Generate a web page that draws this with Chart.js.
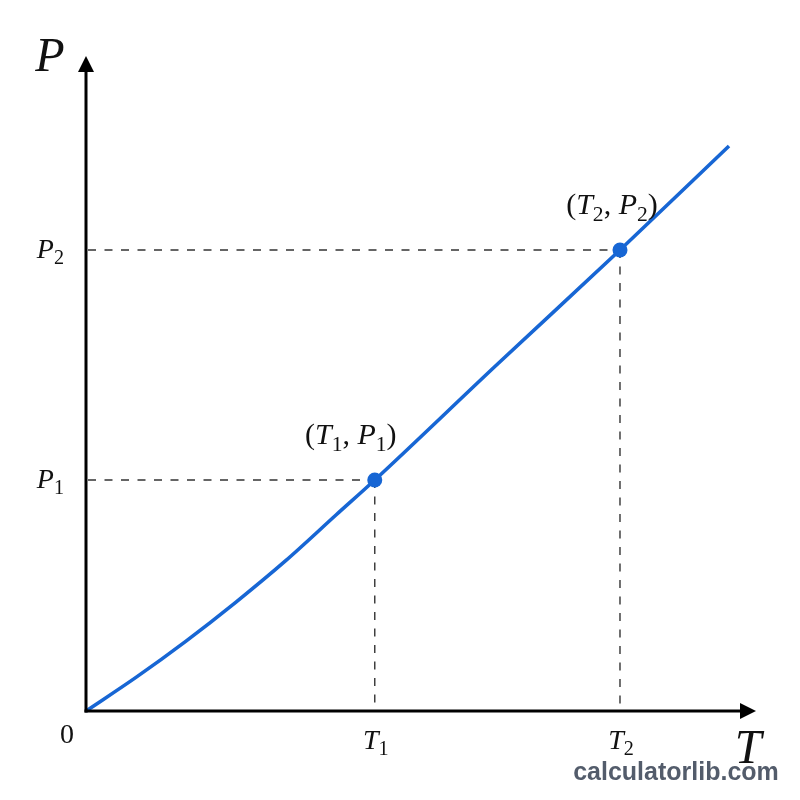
<!DOCTYPE html>
<html><head><meta charset="utf-8">
<script src="https://cdn.jsdelivr.net/npm/chart.js@4/dist/chart.umd.min.js"></script>
<style>html,body{margin:0;padding:0;background:#fff;}canvas{display:block;}</style>
</head><body>
<canvas id="c" width="800" height="800"></canvas>
<script>
// ---- data ----
const curveT = [0, 0.746, 1.493, 2.239, 2.985, 3.731, 4.310, 6.119, 7.970, 9.597];
const curveP = [0, 0.513, 1.067, 1.663, 2.299, 2.992, 3.527, 5.275, 7.038, 8.626];
const markT = [4.310, 7.970];
const markP = [3.527, 7.038];
const markSub = ['1', '2'];
const xAxisName = 'T';
const yAxisName = 'P';
const originLabel = '0';
const watermark = 'calculatorlib.com';
const axisMax = 10;

// ---- styles ----
const BLUE = '#1766d4';
const SERIF = '"Liberation Serif","DejaVu Serif",serif';
const labelDx = [-24, -8];

function rich(ctx, parts, x, y, align, size) {
  const sub = size * 0.72;
  const fontOf = k => k === 'i' ? `italic ${size}px ${SERIF}` : k === 's' ? `${sub}px ${SERIF}` : `${size}px ${SERIF}`;
  let w = 0;
  for (const [t, k] of parts) { ctx.font = fontOf(k); w += ctx.measureText(t).width; }
  let cx = align === 'center' ? x - w / 2 : align === 'right' ? x - w : x;
  ctx.textAlign = 'left'; ctx.textBaseline = 'alphabetic';
  for (const [t, k] of parts) {
    ctx.font = fontOf(k);
    ctx.fillText(t, cx, k === 's' ? y + size * 0.22 : y);
    cx += ctx.measureText(t).width;
  }
}

const decor = {
  id: 'decor',
  beforeDatasetsDraw(chart) {
    const ctx = chart.ctx, xs = chart.scales.x, ys = chart.scales.y;
    const x0 = xs.getPixelForValue(0), y0 = ys.getPixelForValue(0);
    ctx.save();
    ctx.strokeStyle = '#333'; ctx.lineWidth = 1.4; ctx.setLineDash([8, 8.5]);
    markT.forEach((t, i) => {
      const px = xs.getPixelForValue(t), py = ys.getPixelForValue(markP[i]);
      ctx.beginPath(); ctx.moveTo(x0 + 2, py); ctx.lineTo(px, py); ctx.stroke();
      ctx.beginPath(); ctx.moveTo(px, py); ctx.lineTo(px, y0 - 1); ctx.stroke();
    });
    ctx.restore();
  },
  afterDatasetsDraw(chart) {
    const ctx = chart.ctx, xs = chart.scales.x, ys = chart.scales.y;
    const x0 = xs.getPixelForValue(0), y0 = ys.getPixelForValue(0);
    const xEnd = xs.getPixelForValue(axisMax), yEnd = ys.getPixelForValue(axisMax);
    ctx.save();
    // axes
    ctx.strokeStyle = '#000'; ctx.fillStyle = '#000'; ctx.lineWidth = 3;
    ctx.beginPath(); ctx.moveTo(x0, y0 + 1.5); ctx.lineTo(x0, yEnd + 12); ctx.stroke();
    ctx.beginPath(); ctx.moveTo(x0 - 1.5, y0); ctx.lineTo(xEnd - 12, y0); ctx.stroke();
    ctx.beginPath(); ctx.moveTo(x0, yEnd); ctx.lineTo(x0 - 8, yEnd + 16); ctx.lineTo(x0 + 8, yEnd + 16); ctx.closePath(); ctx.fill();
    ctx.beginPath(); ctx.moveTo(xEnd, y0); ctx.lineTo(xEnd - 16, y0 - 8); ctx.lineTo(xEnd - 16, y0 + 8); ctx.closePath(); ctx.fill();

    // labels
    ctx.fillStyle = '#111';
    rich(ctx, [[yAxisName, 'i']], x0 - 36, yEnd + 15, 'center', 48);
    rich(ctx, [[xAxisName, 'i']], xEnd - 8, y0 + 52, 'center', 48);
    rich(ctx, [[originLabel, 'r']], x0 - 19, y0 + 32, 'center', 28);
    markT.forEach((t, i) => {
      const px = xs.getPixelForValue(t), py = ys.getPixelForValue(markP[i]);
      rich(ctx, [[xAxisName, 'i'], [markSub[i], 's']], px + 1, y0 + 38, 'center', 28);
      rich(ctx, [[yAxisName, 'i'], [markSub[i], 's']], x0 - 22, py + 8, 'right', 28);
      rich(ctx, [['(', 'r'], [xAxisName, 'i'], [markSub[i], 's'], [', ', 'r'], [yAxisName, 'i'], [markSub[i], 's'], [')', 'r']],
        px + labelDx[i], py - 36, 'center', 30);
    });
    // watermark
    ctx.fillStyle = '#535c6b';
    ctx.font = 'bold 25px "Liberation Sans", Arial, sans-serif';
    ctx.textAlign = 'center'; ctx.textBaseline = 'alphabetic';
    ctx.fillText(watermark, 676, 780);
    ctx.restore();
  }
};

new Chart(document.getElementById('c'), {
  type: 'line',
  data: {
    datasets: [
      {
        data: curveT.map((t, i) => ({ x: t, y: curveP[i] })),
        borderColor: BLUE, borderWidth: 3.6, pointRadius: 0,
        cubicInterpolationMode: 'monotone', fill: false, clip: false
      },
      {
        type: 'scatter',
        data: markT.map((t, i) => ({ x: t, y: markP[i] })),
        backgroundColor: BLUE, borderColor: BLUE, pointRadius: 7.5, borderWidth: 0, clip: false
      }
    ]
  },
  options: {
    responsive: false, animation: false, events: [],
    layout: { padding: { left: 86, right: 44, top: 56, bottom: 89 } },
    plugins: { legend: { display: false }, tooltip: { enabled: false } },
    scales: {
      x: { type: 'linear', min: 0, max: axisMax, display: false },
      y: { type: 'linear', min: 0, max: axisMax, display: false }
    }
  },
  plugins: [decor, { id: 'bg', beforeDraw(c) { c.ctx.save(); c.ctx.fillStyle = '#fff'; c.ctx.fillRect(0, 0, c.width, c.height); c.ctx.restore(); } }]
});
</script>
</body></html>
